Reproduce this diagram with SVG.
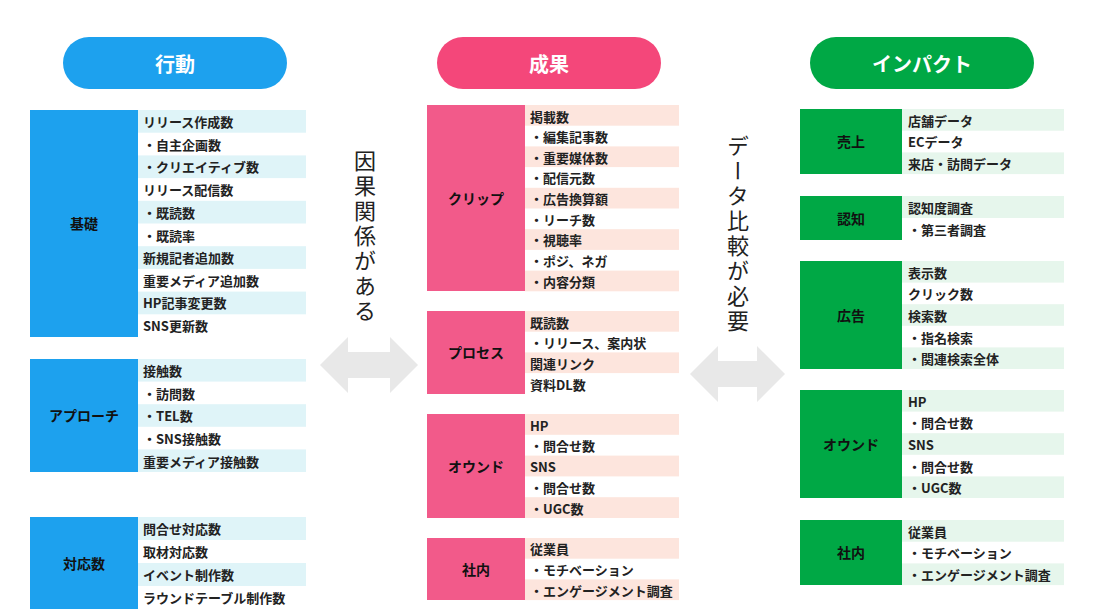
<svg xmlns="http://www.w3.org/2000/svg" width="1106" height="616" viewBox="0 0 1106 616">
<style>
text{font-family:"Noto Sans CJK JP","Noto Sans",sans-serif;font-weight:bold}
.h{fill:#fff;font-size:20px;text-anchor:middle;dominant-baseline:central}
.l{fill:#111;font-size:14px;text-anchor:middle;dominant-baseline:central}
.r{fill:#222;font-size:13px;dominant-baseline:central}
.v{fill:#222;font-size:22px;font-weight:normal;writing-mode:vertical-rl;letter-spacing:3px}
.cb{fill:#dff4f8}.cp{fill:#fde5dd}.cg{fill:#e6f6ec}
.ar{fill:#e8e8e8}
</style>
<rect width="1106" height="616" fill="#fff"/>
<g id="hdr-action"><rect x="63" y="37" width="224" height="52" rx="26" fill="#1da1ee"/><text class="h" x="175" y="63">行動</text></g>
<g id="hdr-result"><rect x="437" y="37" width="224" height="52" rx="26" fill="#f4477a"/><text class="h" x="549" y="63">成果</text></g>
<g id="hdr-impact"><rect x="810" y="37" width="224" height="52" rx="26" fill="#00a845"/><text class="h" x="922" y="63">インパクト</text></g>

<g id="kiso">
<rect x="30" y="110" width="108" height="227" fill="#1da1ee"/><text class="l" x="84" y="223">基礎</text>
<rect class="cb" x="138" y="110" width="168" height="22.7"/><rect class="cb" x="138" y="155.4" width="168" height="22.7"/><rect class="cb" x="138" y="200.8" width="168" height="22.7"/><rect class="cb" x="138" y="246.2" width="168" height="22.7"/><rect class="cb" x="138" y="291.6" width="168" height="22.7"/>
<text class="r" x="143" y="121">リリース作成数</text><text class="r" x="143" y="144">・自主企画数</text><text class="r" x="143" y="166">・クリエイティブ数</text><text class="r" x="143" y="189">リリース配信数</text><text class="r" x="143" y="212">・既読数</text><text class="r" x="143" y="235">・既読率</text><text class="r" x="143" y="257">新規記者追加数</text><text class="r" x="143" y="280">重要メディア追加数</text><text class="r" x="143" y="302">HP記事変更数</text><text class="r" x="143" y="325">SNS更新数</text>
</g>
<g id="approach">
<rect x="30" y="359" width="108" height="113" fill="#1da1ee"/><text class="l" x="84" y="415">アプローチ</text>
<rect class="cb" x="138" y="359" width="168" height="22.6"/><rect class="cb" x="138" y="404.2" width="168" height="22.6"/><rect class="cb" x="138" y="449.4" width="168" height="22.6"/>
<text class="r" x="143" y="370">接触数</text><text class="r" x="143" y="393">・訪問数</text><text class="r" x="143" y="415">・TEL数</text><text class="r" x="143" y="438">・SNS接触数</text><text class="r" x="143" y="461">重要メディア接触数</text>
</g>
<g id="taiou">
<rect x="30" y="517" width="108" height="92" fill="#1da1ee"/><text class="l" x="84" y="563">対応数</text>
<rect class="cb" x="138" y="517" width="168" height="23"/><rect class="cb" x="138" y="563" width="168" height="23"/>
<text class="r" x="143" y="528">問合せ対応数</text><text class="r" x="143" y="551">取材対応数</text><text class="r" x="143" y="574">イベント制作数</text><text class="r" x="143" y="597">ラウンドテーブル制作数</text>
</g>

<g id="clip">
<rect x="427" y="105" width="98" height="186" fill="#f25a8a"/><text class="l" x="476" y="198">クリップ</text>
<rect class="cp" x="525" y="105" width="154" height="20.7"/><rect class="cp" x="525" y="146.4" width="154" height="20.7"/><rect class="cp" x="525" y="187.8" width="154" height="20.7"/><rect class="cp" x="525" y="229.2" width="154" height="20.7"/><rect class="cp" x="525" y="270.6" width="154" height="20.7"/>
<text class="r" x="530" y="116">掲載数</text><text class="r" x="530" y="136">・編集記事数</text><text class="r" x="530" y="157">・重要媒体数</text><text class="r" x="530" y="177">・配信元数</text><text class="r" x="530" y="198">・広告換算額</text><text class="r" x="530" y="219">・リーチ数</text><text class="r" x="530" y="239">・視聴率</text><text class="r" x="530" y="260">・ポジ、ネガ</text><text class="r" x="530" y="281">・内容分類</text>
</g>
<g id="process">
<rect x="427" y="311" width="98" height="83" fill="#f25a8a"/><text class="l" x="476" y="352">プロセス</text>
<rect class="cp" x="525" y="311" width="154" height="20.7"/><rect class="cp" x="525" y="352.4" width="154" height="20.7"/>
<text class="r" x="530" y="322">既読数</text><text class="r" x="530" y="342">・リリース、案内状</text><text class="r" x="530" y="363">関連リンク</text><text class="r" x="530" y="384">資料DL数</text>
</g>
<g id="owned-m">
<rect x="427" y="414" width="98" height="104" fill="#f25a8a"/><text class="l" x="476" y="466">オウンド</text>
<rect class="cp" x="525" y="414" width="154" height="20.8"/><rect class="cp" x="525" y="455.6" width="154" height="20.8"/><rect class="cp" x="525" y="497.2" width="154" height="20.8"/>
<text class="r" x="530" y="425">HP</text><text class="r" x="530" y="445">・問合せ数</text><text class="r" x="530" y="466">SNS</text><text class="r" x="530" y="487">・問合せ数</text><text class="r" x="530" y="508">・UGC数</text>
</g>
<g id="internal-m">
<rect x="427" y="538" width="98" height="62" fill="#f25a8a"/><text class="l" x="476" y="569">社内</text>
<rect class="cp" x="525" y="538" width="154" height="20.7"/><rect class="cp" x="525" y="579.4" width="154" height="20.7"/>
<text class="r" x="530" y="548">従業員</text><text class="r" x="530" y="569">・モチベーション</text><text class="r" x="530" y="590">・エンゲージメント調査</text>
</g>

<g id="sales">
<rect x="800" y="109" width="102" height="65" fill="#00a845"/><text class="l" x="851" y="141">売上</text>
<rect class="cg" x="902" y="109" width="162" height="21.7"/><rect class="cg" x="902" y="152.4" width="162" height="21.7"/>
<text class="r" x="908" y="120">店舗データ</text><text class="r" x="908" y="141">ECデータ</text><text class="r" x="908" y="163">来店・訪問データ</text>
</g>
<g id="ninchi">
<rect x="800" y="196" width="102" height="44" fill="#00a845"/><text class="l" x="851" y="218">認知</text>
<rect class="cg" x="902" y="196" width="162" height="22"/>
<text class="r" x="908" y="207">認知度調査</text><text class="r" x="908" y="229">・第三者調査</text>
</g>
<g id="ad">
<rect x="800" y="261" width="102" height="108" fill="#00a845"/><text class="l" x="851" y="315">広告</text>
<rect class="cg" x="902" y="261" width="162" height="21.6"/><rect class="cg" x="902" y="304.2" width="162" height="21.6"/><rect class="cg" x="902" y="347.4" width="162" height="21.6"/>
<text class="r" x="908" y="272">表示数</text><text class="r" x="908" y="293">クリック数</text><text class="r" x="908" y="315">検索数</text><text class="r" x="908" y="337">・指名検索</text><text class="r" x="908" y="358">・関連検索全体</text>
</g>
<g id="owned-r">
<rect x="800" y="390" width="102" height="108" fill="#00a845"/><text class="l" x="851" y="444">オウンド</text>
<rect class="cg" x="902" y="390" width="162" height="21.6"/><rect class="cg" x="902" y="433.2" width="162" height="21.6"/><rect class="cg" x="902" y="476.4" width="162" height="21.6"/>
<text class="r" x="908" y="401">HP</text><text class="r" x="908" y="422">・問合せ数</text><text class="r" x="908" y="444">SNS</text><text class="r" x="908" y="466">・問合せ数</text><text class="r" x="908" y="487">・UGC数</text>
</g>
<g id="internal-r">
<rect x="800" y="520" width="102" height="65" fill="#00a845"/><text class="l" x="851" y="552">社内</text>
<rect class="cg" x="902" y="520" width="162" height="21.7"/><rect class="cg" x="902" y="563.4" width="162" height="21.7"/>
<text class="r" x="908" y="531">従業員</text><text class="r" x="908" y="552">・モチベーション</text><text class="r" x="908" y="574">・エンゲージメント調査</text>
</g>

<g id="connectors">
<polygon class="ar" points="320,365 348,337 348,352 390,352 390,337 418,365 390,393 390,378 348,378 348,393"/>
<polygon class="ar" points="690,374 718,346 718,361 757,361 757,346 785,374 757,402 757,387 718,387 718,402"/>
</g>
<text class="v" x="365" y="150">因果関係がある</text>
<text class="v" x="738" y="135">データ比較が必要</text>
</svg>
